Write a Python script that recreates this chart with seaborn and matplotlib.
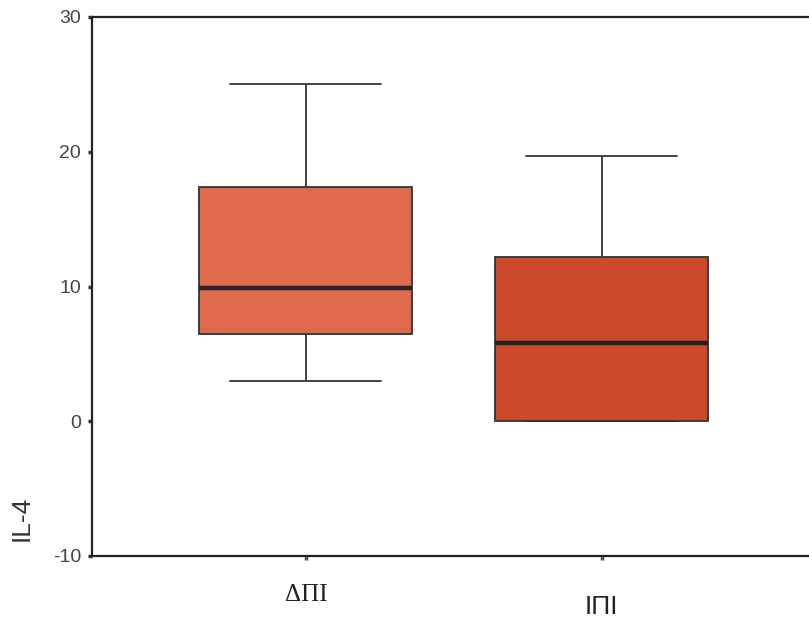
import pandas as pd
import matplotlib
matplotlib.use('Agg')
import matplotlib.pyplot as plt
import seaborn as sns

# five-number values (min, q1, median, q3, max)
groups = ['ΔΠΙ', 'ΙΠΙ']
dpi_values = [3.0, 6.5, 9.9, 17.4, 25.0]
ipi_values = [0.0, 0.0, 5.8, 12.2, 19.7]
box_colors = ['#e0684b', '#cb4a2c']
y_ticks = [-10, 0, 10, 20, 30]


def build_df():
    df = pd.DataFrame({
        'group': [groups[0]] * len(dpi_values) + [groups[1]] * len(ipi_values),
        'IL-4': dpi_values + ipi_values,
    })
    return df


def main():
    sns.set_style('white')
    plt.rcParams['font.family'] = ['Liberation Sans', 'DejaVu Sans']
    df = build_df()

    fig = plt.figure(figsize=(8.09, 6.24), dpi=100)
    ax = fig.add_axes([92 / 809, 68 / 624, 717 / 809, 539 / 624])

    sns.boxplot(data=df, x='group', y='IL-4', hue='group', palette=box_colors,
                order=groups, hue_order=groups, legend=False, width=0.72,
                whis=3.0, saturation=1, linecolor='#333333', linewidth=1.3,
                capwidths=0.51,
                medianprops={'color': '#222222', 'linewidth': 3.2},
                ax=ax)

    ax.set_xlim(-0.723, 1.70)
    ax.set_ylim(-10, 30)
    ax.set_yticks(y_ticks)
    ax.set_yticklabels([str(t) for t in y_ticks], color='#444444', fontsize=14)
    ax.tick_params(axis='y', direction='out', length=3, width=2.5, color='#333333', pad=5, left=True)
    ax.tick_params(axis='x', direction='out', length=3, width=2.5, color='#555555', pad=17, bottom=True)

    for side in ['left', 'bottom', 'top']:
        ax.spines[side].set_visible(True)
        ax.spines[side].set_color('#222222')
        ax.spines[side].set_linewidth(1.6)
    ax.spines['right'].set_visible(False)

    labels = ax.get_xticklabels()
    labels[0].set_fontfamily(['Liberation Serif', 'DejaVu Serif'])
    labels[0].set_fontsize(18)
    labels[1].set_fontfamily(['Liberation Sans', 'DejaVu Sans'])
    labels[1].set_fontsize(19)
    labels[1].set_y(-0.02)
    for lab in labels:
        lab.set_color('#222222')

    ax.set_xlabel('')
    ax.set_ylabel('IL-4', fontsize=19, color='#333333')
    ax.yaxis.set_label_coords(-0.081, 0.07)

    fig.savefig('out.png', dpi=100)


if __name__ == '__main__':
    main()
